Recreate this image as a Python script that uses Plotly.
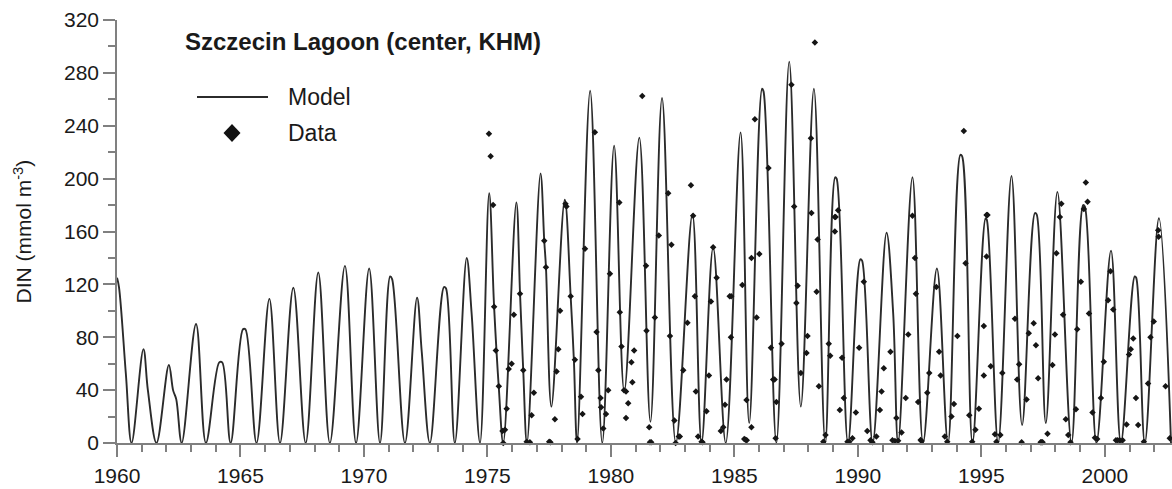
import plotly.graph_objects as go

# Model DIN series (Szczecin Lagoon, center) — seasonal maxima/minima and shoulders
model_year = [
    1960.00, 1960.08, 1960.36, 1960.59,
    1961.07, 1961.25, 1961.60,
    1962.10, 1962.27, 1962.40, 1962.62,
    1963.20, 1963.60,
    1964.14, 1964.26, 1964.60,
    1965.10, 1965.20, 1965.65,
    1966.17, 1966.60,
    1967.14, 1967.64,
    1968.15, 1968.62,
    1969.23, 1969.68,
    1970.21, 1970.65,
    1971.06, 1971.14, 1971.66,
    1972.15, 1972.34, 1972.67,
    1973.24, 1973.32, 1973.68,
    1974.16, 1974.36, 1974.70,
    1975.07, 1975.27, 1975.46, 1975.64,
    1976.17, 1976.32, 1976.45, 1976.60,
    1977.15, 1977.30, 1977.37, 1977.59,
    1978.13, 1978.37, 1978.50, 1978.63,
    1979.16, 1979.65,
    1980.13, 1980.54,
    1981.15, 1981.60,
    1982.07, 1982.63,
    1983.30, 1983.67,
    1984.14, 1984.65,
    1985.25, 1985.60,
    1986.12, 1986.18, 1986.70,
    1987.22, 1987.69,
    1988.22, 1988.68,
    1989.08, 1989.14, 1989.60,
    1990.10, 1990.17, 1990.60,
    1991.16, 1991.43, 1991.63,
    1992.21, 1992.64,
    1993.20, 1993.65,
    1994.15, 1994.22, 1994.64,
    1995.17, 1995.22, 1995.68,
    1996.22, 1996.65,
    1997.17, 1997.24, 1997.61,
    1998.08, 1998.65,
    1999.12, 1999.19, 1999.66,
    2000.25, 2000.65,
    2001.21, 2001.27, 2001.62,
    2002.19, 2002.68,
]
model_din = [
    125, 118, 52, 0,
    71, 40, 0,
    59, 40, 33, 0,
    90, 0,
    61, 61, 0,
    86, 86, 0,
    109, 0,
    117.5, 0,
    129, 0,
    134, 0,
    132, 0,
    126, 124, 0,
    110, 69, 0,
    118, 117, 0,
    140, 98, 0,
    189, 103, 42, 0,
    182, 113, 55, 0,
    204, 153, 133, 27.5,
    184, 111, 63, 0,
    266.5, 0,
    225, 39,
    231, 16,
    261, 0,
    173, 0,
    148, 0,
    235, 15,
    268, 266, 0,
    288.5, 27.5,
    268, 0,
    201, 200, 0,
    139, 138, 0,
    159, 98, 0,
    201, 0,
    132, 0,
    218, 217, 0,
    170, 169, 0,
    202, 13.6,
    174, 173, 15,
    190, 0,
    180, 179, 0,
    145.5, 0,
    126, 125, 0,
    170, 0,
]

# Observed DIN
obs_year = [
    1975.06, 1975.13, 1975.23, 1975.27, 1975.34, 1975.46, 1975.61, 1975.64, 1975.71, 1975.78, 1975.86, 1975.98,
    1976.07, 1976.32, 1976.45, 1976.59, 1976.72, 1976.79, 1976.88,
    1977.30, 1977.37, 1977.50, 1977.55, 1977.73, 1977.80, 1977.87, 1977.94,
    1978.16, 1978.20, 1978.37, 1978.54, 1978.65, 1978.79, 1978.85, 1978.95,
    1979.35, 1979.42, 1979.49, 1979.58, 1979.60, 1979.69, 1979.80, 1979.89, 1979.96,
    1980.34, 1980.36, 1980.43, 1980.53, 1980.61, 1980.70, 1980.61, 1980.83, 1980.87, 1980.94,
    1981.27, 1981.42, 1981.44, 1981.55, 1981.58, 1981.63, 1981.78, 1981.94,
    1982.32, 1982.45, 1982.39, 1982.57, 1982.62, 1982.75, 1982.79, 1982.93,
    1983.10, 1983.24, 1983.33, 1983.40, 1983.44, 1983.53, 1983.67, 1983.71, 1983.87, 1983.97,
    1984.05, 1984.14, 1984.28, 1984.45, 1984.55, 1984.62, 1984.68, 1984.86, 1984.81, 1984.87,
    1985.32, 1985.49, 1985.69, 1985.40, 1985.45, 1985.50, 1985.69, 1985.83, 1985.90,
    1986.01, 1986.38, 1986.48, 1986.57, 1986.63, 1986.70, 1986.67, 1986.91,
    1987.31, 1987.42, 1987.56, 1987.51, 1987.69, 1987.92, 1987.96,
    1988.10, 1988.12, 1988.26, 1988.37, 1988.33, 1988.42, 1988.60, 1988.69, 1988.82, 1988.88,
    1989.07, 1989.10, 1989.20, 1989.07, 1989.36, 1989.43, 1989.27, 1989.58, 1989.65, 1989.78, 1989.92,
    1990.05, 1990.24, 1990.38, 1990.51, 1990.59, 1990.75, 1990.89, 1990.96,
    1991.05, 1991.32, 1991.56, 1991.40, 1991.50, 1991.63, 1991.77, 1991.94,
    1992.04, 1992.21, 1992.31, 1992.35, 1992.44, 1992.54, 1992.58, 1992.81, 1992.89,
    1993.18, 1993.29, 1993.35, 1993.52, 1993.62, 1993.79, 1993.89,
    1994.03, 1994.29, 1994.36, 1994.51, 1994.63, 1994.76, 1994.90,
    1995.10, 1995.10, 1995.21, 1995.25, 1995.21, 1995.38, 1995.55, 1995.61, 1995.77, 1995.85,
    1996.36, 1996.53, 1996.45, 1996.63, 1996.83, 1996.92,
    1997.12, 1997.21, 1997.30, 1997.40, 1997.44, 1997.48, 1997.68, 1997.88, 1997.98,
    1998.04, 1998.18, 1998.24, 1998.31, 1998.42, 1998.52, 1998.61, 1998.83, 1998.88,
    1999.03, 1999.15, 1999.23, 1999.30, 1999.36, 1999.50, 1999.60, 1999.69, 1999.84, 1999.96,
    2000.13, 2000.23, 2000.34, 2000.45, 2000.52, 2000.60, 2000.72, 2000.88, 2000.98,
    2001.05, 2001.15, 2001.26, 2001.35, 2001.58, 2001.75, 2001.85, 2001.98,
    2002.16, 2002.18, 2002.46, 2002.63,
]
obs_din = [
    234, 217, 180, 103, 70, 43, 9, 0, 10, 26, 56, 60,
    97, 113, 55, 1, 0.5, 21, 38,
    153, 133, 1, 0.5, 18, 54, 71, 100,
    181, 179, 111, 63, 3, 35, 22, 147,
    235, 84, 55, 34, 27, 11, 22, 40, 128,
    182, 99, 73, 40, 39, 30, 19, 61, 46, 70,
    262.5, 134, 85, 12, 0.5, 0.5, 95, 157,
    189, 150, 81, 17, 0, 5, 5, 55,
    91, 195, 172, 111, 39, 5, 1, 0.5, 24, 51,
    107, 148, 125, 9, 12, 29, 48, 80, 111, 111,
    119.5, 32.5, 12, 3, 2.5, 2, 140, 245, 95,
    143, 208, 72, 48, 48, 31, 3.5, 75,
    271, 179, 119, 106, 53, 68, 81,
    230.5, 174, 303, 154, 114.5, 43, 1, 6, 75, 66,
    171, 171, 176, 160, 64.5, 34, 25, 1, 1, 3.5, 23,
    72, 122, 9, 2, 0.5, 5, 25, 39,
    56.5, 69, 19, 2, 1.5, 1.7, 8, 34,
    82, 172, 140, 113, 31, 2.3, 1.5, 38, 53,
    118, 69, 51, 5, 1, 20, 29.5,
    81, 236, 136, 21, 1, 10, 26,
    51, 88.5, 172.5, 172.5, 141, 58, 6.6, 1, 6, 53,
    94, 59.5, 48, 0.5, 33, 83,
    90.5, 74, 49, 0.5, 0.5, 0.5, 7, 59, 82,
    143.5, 171, 181, 97, 18, 6, 0.5, 25.5, 86,
    122, 177, 197, 182.5, 98, 23, 4, 3, 34, 61.5,
    108, 130, 101, 2, 2, 2, 2, 14, 67,
    71, 79, 34, 13.6, 1, 45, 80, 92,
    161, 156, 43, 3.5,
]

x_ticks = [1960, 1965, 1970, 1975, 1980, 1985, 1990, 1995, 2000]
y_ticks = [0, 40, 80, 120, 160, 200, 240, 280, 320]

FONT = "Arial, 'Liberation Sans', sans-serif"
AXIS_GREY = "#808080"
TEXT = "#1a1a1a"

fig = go.Figure()
fig.add_trace(go.Scatter(
    x=model_year, y=model_din, mode="lines", name="Model",
    line=dict(color="#2b2b2b", width=1.9, shape="spline", smoothing=1.0),
    showlegend=False,
))
fig.add_trace(go.Scatter(
    x=obs_year, y=obs_din, mode="markers", name="Data",
    marker=dict(symbol="diamond", size=5, color="#151515"),
    showlegend=False, cliponaxis=False,
))

W, H = 1172, 489
L, R, T, B = 117, 0, 20, 46
pw, ph = W - L - R, H - T - B


def px(xp):
    return (xp - L) / pw


def py(yp):
    return (H - B - yp) / ph


# hand-drawn key: long line sample and a large diamond
fig.add_shape(type="line", xref="paper", yref="paper",
              x0=px(197), x1=px(268), y0=py(97), y1=py(97),
              line=dict(color="#2b2b2b", width=1.9))
fig.add_shape(type="path", xref="paper", yref="paper",
              xsizemode="pixel", ysizemode="pixel",
              xanchor=px(232), yanchor=py(133),
              path="M-8.5,0 L0,9 L8.5,0 L0,-9 Z",
              fillcolor="#111111", line=dict(width=0))

annotations = [
    dict(text="<b>Szczecin Lagoon (center, KHM)</b>", x=px(183), y=py(42),
         xanchor="left", yanchor="middle", font=dict(size=24, color=TEXT)),
    dict(text="Model", x=px(286), y=py(97), xanchor="left", yanchor="middle",
         font=dict(size=23, color=TEXT)),
    dict(text="Data", x=px(286), y=py(133), xanchor="left", yanchor="middle",
         font=dict(size=23, color=TEXT)),
    dict(text="DIN (mmol m<sup>-3</sup>)", x=px(22), y=0.5, textangle=-90,
         xanchor="center", yanchor="middle", font=dict(size=21, color=TEXT)),
]
for a in annotations:
    a.update(xref="paper", yref="paper", showarrow=False)
fig.update_layout(annotations=annotations)

axis_common = dict(
    showline=True, linecolor=AXIS_GREY, linewidth=1.5,
    ticks="outside", ticklen=12, tickwidth=1.5, tickcolor=AXIS_GREY,
    showgrid=False, zeroline=False, automargin=False,
    tickfont=dict(size=21, color=TEXT, family=FONT),
)
fig.update_xaxes(range=[1960, 2002.72], tickvals=x_ticks, ticklabelstandoff=1,
                 minor=dict(dtick=1, tick0=1960, ticklen=7, tickwidth=1.5,
                            tickcolor=AXIS_GREY, ticks="outside", showgrid=False),
                 **axis_common)
fig.update_yaxes(range=[0, 320], tickvals=y_ticks,
                 minor=dict(dtick=20, tick0=0, ticklen=7, tickwidth=1.5,
                            tickcolor=AXIS_GREY, ticks="outside", showgrid=False),
                 **axis_common)

fig.update_layout(
    width=W, height=H,
    margin=dict(l=L, r=R, t=T, b=B, pad=0, autoexpand=False),
    paper_bgcolor="white", plot_bgcolor="white",
    font=dict(family=FONT, color=TEXT),
    showlegend=False,
)

fig.write_html("out.html")
